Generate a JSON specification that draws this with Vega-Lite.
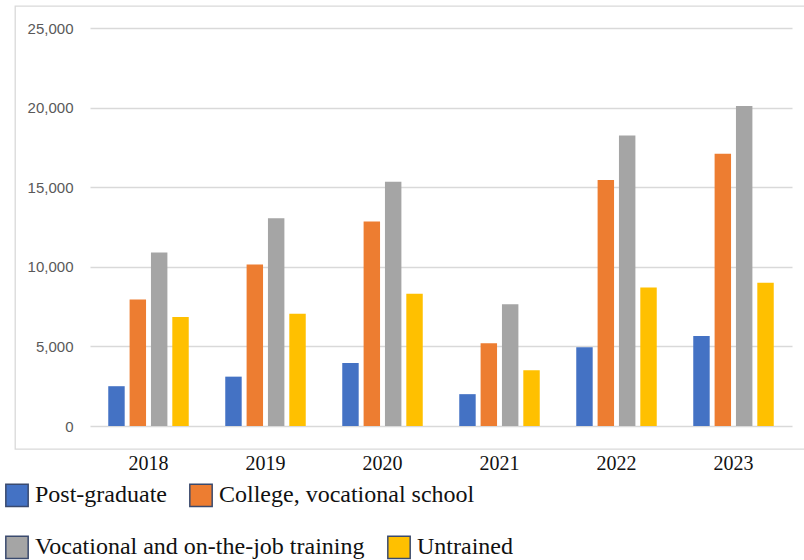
{
  "$schema": "https://vega.github.io/schema/vega-lite/v6.json",
  "width": 790,
  "height": 443,
  "autosize": {"type": "none"},
  "padding": {"left": 15, "top": 6, "right": 0, "bottom": 111},
  "background": "white",
  "config": {
    "view": {"stroke": "#d9d9d9", "strokeWidth": 1.3},
    "legend": {
      "title": null,
      "orient": "none",
      "direction": "horizontal",
      "padding": 0,
      "symbolType": "square",
      "symbolSize": 500,
      "symbolStrokeColor": "#3a4a6e",
      "symbolStrokeWidth": 1.5,
      "symbolOpacity": 1,
      "labelFont": "Liberation Serif",
      "labelFontSize": 24,
      "labelColor": "#111111",
      "labelOffset": 6,
      "labelLimit": 600,
      "columnPadding": 19
    }
  },
  "data": {
    "values": [
      {"year": "2018", "level": "Post-graduate", "workers": 2500},
      {"year": "2018", "level": "College, vocational school", "workers": 7950},
      {"year": "2018", "level": "Vocational and on-the-job training", "workers": 10900},
      {"year": "2018", "level": "Untrained", "workers": 6850},
      {"year": "2019", "level": "Post-graduate", "workers": 3100},
      {"year": "2019", "level": "College, vocational school", "workers": 10150},
      {"year": "2019", "level": "Vocational and on-the-job training", "workers": 13050},
      {"year": "2019", "level": "Untrained", "workers": 7050},
      {"year": "2020", "level": "Post-graduate", "workers": 3950},
      {"year": "2020", "level": "College, vocational school", "workers": 12850},
      {"year": "2020", "level": "Vocational and on-the-job training", "workers": 15350},
      {"year": "2020", "level": "Untrained", "workers": 8300},
      {"year": "2021", "level": "Post-graduate", "workers": 2000},
      {"year": "2021", "level": "College, vocational school", "workers": 5200},
      {"year": "2021", "level": "Vocational and on-the-job training", "workers": 7650},
      {"year": "2021", "level": "Untrained", "workers": 3500},
      {"year": "2022", "level": "Post-graduate", "workers": 4950},
      {"year": "2022", "level": "College, vocational school", "workers": 15450},
      {"year": "2022", "level": "Vocational and on-the-job training", "workers": 18250},
      {"year": "2022", "level": "Untrained", "workers": 8700},
      {"year": "2023", "level": "Post-graduate", "workers": 5650},
      {"year": "2023", "level": "College, vocational school", "workers": 17100},
      {"year": "2023", "level": "Vocational and on-the-job training", "workers": 20100},
      {"year": "2023", "level": "Untrained", "workers": 9000}
    ]
  },
  "encoding": {
    "x": {
      "field": "year",
      "type": "ordinal",
      "scale": {"range": [75, 777], "paddingInner": 0.27, "paddingOuter": 0.135},
      "axis": {
        "title": null,
        "labelAngle": 0,
        "ticks": false,
        "domain": false,
        "labelFont": "Liberation Serif",
        "labelFontSize": 20,
        "labelColor": "#111111",
        "labelPadding": 4
      }
    },
    "xOffset": {
      "field": "level",
      "type": "nominal",
      "scale": {
        "domain": ["Post-graduate", "College, vocational school", "Vocational and on-the-job training", "Untrained"],
        "paddingInner": 0.23,
        "paddingOuter": 0.115
      }
    },
    "y": {
      "field": "workers",
      "type": "quantitative",
      "scale": {"domain": [0, 25000], "range": [420, 22], "nice": false},
      "axis": {
        "title": null,
        "values": [0, 5000, 10000, 15000, 20000, 25000],
        "format": ",.0f",
        "ticks": false,
        "domain": false,
        "offset": -62,
        "labelPadding": 4,
        "gridColor": "#d9d9d9",
        "gridWidth": 1.3,
        "labelFont": "Liberation Sans",
        "labelFontSize": 15,
        "labelColor": "#595959"
      }
    }
  },
  "layer": [
    {
      "transform": [{"filter": {"field": "level", "oneOf": ["Post-graduate", "College, vocational school"]}}],
      "mark": {"type": "bar"},
      "encoding": {
        "color": {
          "field": "level",
          "type": "nominal",
          "scale": {
            "domain": ["Post-graduate", "College, vocational school"],
            "range": ["#4472C4", "#ED7D31"]
          },
          "legend": {"legendX": -10, "legendY": 477}
        }
      }
    },
    {
      "transform": [{"filter": {"field": "level", "oneOf": ["Vocational and on-the-job training", "Untrained"]}}],
      "mark": {"type": "bar"},
      "encoding": {
        "color": {
          "field": "level",
          "type": "nominal",
          "scale": {
            "domain": ["Vocational and on-the-job training", "Untrained"],
            "range": ["#A5A5A5", "#FFC000"]
          },
          "legend": {"legendX": -10, "legendY": 529}
        }
      }
    }
  ],
  "resolve": {"scale": {"color": "independent"}, "legend": {"color": "independent"}}
}
